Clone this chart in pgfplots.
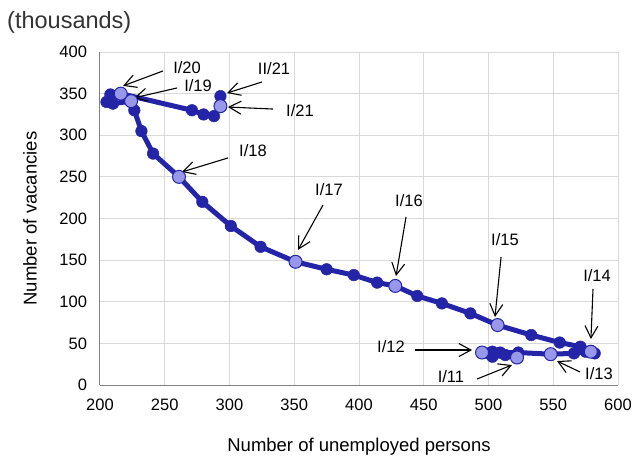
\documentclass[border=0pt]{standalone}
\usepackage{pgfplots}
\pgfplotsset{compat=1.18}
\usepackage{fontspec}
\setmainfont{Liberation Sans}
\usetikzlibrary{arrows.meta}
\definecolor{dk}{RGB}{36,36,168}
\definecolor{lt}{RGB}{152,152,235}
\definecolor{gridc}{RGB}{217,217,217}
\tikzset{
  arr/.style={draw=black, line width=1.1pt, -{Straight Barb[length=12pt,width=13pt,line width=1.1pt]}},
  lab/.style={font=\fontsize{16.5}{19}\selectfont},
}
\begin{document}
\begin{tikzpicture}
\useasboundingbox (0,0) rectangle (633pt,-460pt);
\node[anchor=base west, inner sep=0pt, font=\fontsize{23.5}{28}\selectfont, text=black!80] at (7pt,-29pt) {(thousands)};
\begin{axis}[
  at={(100pt,-385pt)}, anchor=south west,
  scale only axis, width=518pt, height=333pt,
  xmin=200, xmax=600, ymin=0, ymax=400,
  xtick={200,250,...,600}, ytick={0,50,...,400},
  grid=major, major grid style={gridc, line width=1pt},
  axis x line*=bottom, axis y line*=left,
  axis line style={-, draw=black!50, line width=1pt},
  major tick length=0pt,
  tick label style={font=\fontsize{16.5}{19}\selectfont, /pgf/number format/assume math mode=true},
  xticklabel style={yshift=-10pt},
  yticklabel style={xshift=-9.5pt},
  xlabel={Number of unemployed persons},
  ylabel={Number of vacancies},
  label style={font=\fontsize{18.5}{22}\selectfont},
  x label style={at={(axis description cs:0.5,-0.150)}, anchor=north},
  y label style={at={(axis description cs:-0.135,0.5)}, anchor=center},
  clip=false,
]
\addplot[dk, line width=5pt, line join=round, line cap=round, mark=*, mark size=5.8pt, mark options={fill=dk, draw=dk, line width=0.5pt}] coordinates {
(522,33) (513,36) (503,34) (500,38)
(495,39) (503,40) (509,39) (523,39)
(548,37) (566,38) (575,40) (582,38)
(579,40) (571,46) (555,51) (533,60)
(507,72) (486,86) (464,98) (445,107)
(428,119) (414,123) (396,132) (375,139)
(351,148) (324,166) (301,191) (279,220)
(261,250) (241,278) (232,305) (226.5,330)
(224,341) (210,338) (205,340) (208,349)
(216,350) (271,330) (280,325) (288,323)
(293,335) (293,347)
};
\addplot[only marks, mark=*, mark size=6.5pt, mark options={fill=lt, draw=dk, line width=1pt}] coordinates {
(522,33) (495,39) (548,37) (579,40) (507,72) (428,119) (351,148) (261,250) (224,341) (216,350) (293,335)
};
% annotations
\node[lab] at (axis cs:267.2,380.8) {I/20};
\draw[arr] (axis cs:248.6,377.2) -- (axis cs:217.8,359.3);
\node[lab] at (axis cs:275.7,359.2) {I/19};
\draw[arr] (axis cs:259.5,356.8) -- (axis cs:226.3,344.9);
\node[lab] at (axis cs:334.4,379.6) {II/21};
\draw[arr] (axis cs:325.1,364) -- (axis cs:298.1,350.7);
\node[lab] at (axis cs:354.4,329.1) {I/21};
\draw[arr] (axis cs:333.6,331.5) -- (axis cs:298.8,333.9);
\node[lab] at (axis cs:318.1,281.1) {I/18};
\draw[arr] (axis cs:298.8,272.7) -- (axis cs:263.3,255.9);
\node[lab] at (axis cs:376.8,234.2) {I/17};
\draw[arr] (axis cs:372.2,216.2) -- (axis cs:352.9,162.2);
\node[lab] at (axis cs:438.6,221) {I/16};
\draw[arr] (axis cs:436.3,201.8) -- (axis cs:428.6,130.9);
\node[lab] at (axis cs:512.7,174.2) {I/15};
\draw[arr] (axis cs:509.7,153.8) -- (axis cs:505,81.7);
\node[lab] at (axis cs:583.8,130.9) {I/14};
\draw[arr] (axis cs:580.7,115.3) -- (axis cs:579.1,55.3);
\node[lab] at (axis cs:585.3,13.2) {I/13};
\draw[arr] (axis cs:570.7,15.6) -- (axis cs:552.9,28.8);
\node[lab] at (axis cs:471,9.6) {I/11};
\draw[arr] (axis cs:491.1,7.2) -- (axis cs:518.1,24);
\node[lab] at (axis cs:424.7,45.6) {I/12};
\draw[arr] (axis cs:443.2,42) -- (axis cs:487.3,42);
\end{axis}
\end{tikzpicture}
\end{document}
